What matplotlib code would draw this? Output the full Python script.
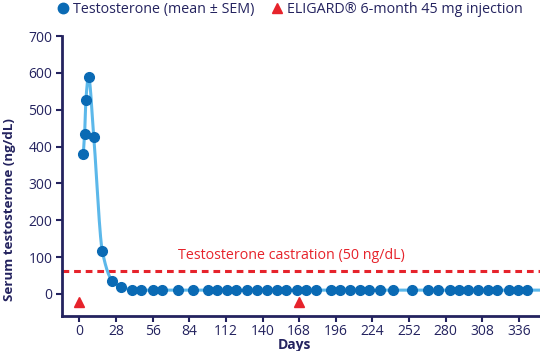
import numpy as np
import matplotlib.pyplot as plt
from matplotlib.lines import Line2D

# testosterone mean values
days = [3, 4, 5, 7, 11, 17.5, 25, 32, 40, 47, 56, 63, 75, 87, 98, 105, 113, 120,
        128, 136, 143, 151, 158, 166, 173, 180.5, 192, 199, 207, 214.5, 221, 230,
        240, 254, 266.5, 274, 283, 290, 297, 305, 312, 319, 328, 335.5, 342]
testo = [380, 433, 527, 589, 425, 117, 36, 19, 11, 10, 10, 10, 10, 10, 10, 10, 10, 10,
         10, 10, 10, 10, 10, 10, 10, 10, 10, 10, 10, 10, 10, 10,
         10, 10, 10, 10, 10, 10, 10, 10, 10, 10, 10, 10, 10]
inj_days = [0, 168]
inj_y = [-21, -21]
castration = 63
xticks = list(range(0, 337, 28))
yticks = list(range(0, 701, 100))

navy = '#24235f'
blue = '#0a6ab4'
light = '#5cb8ea'
red = '#e6232b'

plt.rcParams['font.family'] = ['Open Sans', 'DejaVu Sans']


def smooth(x, y, n=20):
    # monotone cubic (Fritsch-Carlson) just for the drawn curve
    x = np.asarray(x, float)
    y = np.asarray(y, float)
    h = np.diff(x)
    d = np.diff(y) / h
    m = np.zeros_like(y)
    m[0], m[-1] = d[0], d[-1]
    for i in range(1, len(x) - 1):
        if d[i - 1] * d[i] <= 0:
            m[i] = 0
        else:
            w1 = 2 * h[i] + h[i - 1]
            w2 = h[i] + 2 * h[i - 1]
            m[i] = (w1 + w2) / (w1 / d[i - 1] + w2 / d[i])
    xs, ys = [], []
    for i in range(len(x) - 1):
        t = np.linspace(0, 1, n, endpoint=False)
        h00 = 2 * t**3 - 3 * t**2 + 1
        h10 = t**3 - 2 * t**2 + t
        h01 = -2 * t**3 + 3 * t**2
        h11 = t**3 - t**2
        xs.append(x[i] + t * h[i])
        ys.append(h00 * y[i] + h10 * h[i] * m[i] + h01 * y[i + 1] + h11 * h[i] * m[i + 1])
    xs.append([x[-1]])
    ys.append([y[-1]])
    return np.concatenate(xs), np.concatenate(ys)


fig = plt.figure(figsize=(5.4, 3.51), dpi=100)
ax = fig.add_axes([0.115, 0.10, 0.885, 0.797])

xlim = (-13.2, 352)
sx, sy = smooth(days, testo)
ax.plot(np.append(sx, xlim[1]), np.append(sy, testo[-1]), color=light, lw=2.2, zorder=2)
ax.plot(days, testo, 'o', color=blue, ms=7, zorder=3)
ax.plot(inj_days, inj_y, '^', color=red, ms=7, zorder=3)
ax.axhline(castration, color=red, lw=2.2, ls=(0, (2.2, 1.6)), zorder=1)
ax.text(75, 104, 'Testosterone castration (50 ng/dL)', color=red, fontsize=10.3,
        ha='left', va='center')

ax.set_xlim(*xlim)
ax.set_ylim(-60, 700)
ax.set_xticks(xticks)
ax.set_yticks(yticks)
for s in ['top', 'right']:
    ax.spines[s].set_visible(False)
for s in ['left', 'bottom']:
    ax.spines[s].set_color(navy)
    ax.spines[s].set_linewidth(2)
ax.tick_params(colors=navy, labelsize=10, width=1.5, length=4)
ax.tick_params(axis='x', pad=1.5)
ax.tick_params(axis='y', pad=3)
ax.set_xlabel('Days', color=navy, fontsize=10, fontweight='bold')
ax.set_ylabel('Serum testosterone (ng/dL)', color=navy, fontsize=9.6, fontweight='bold')
ax.xaxis.set_label_coords(0.487, -0.078)
ax.yaxis.set_label_coords(-0.0965, 0.379)

handles = [Line2D([], [], marker='o', ls='none', color=blue, ms=7.5),
           Line2D([], [], marker='^', ls='none', color=red, ms=7.5)]
fig.legend(handles, ['Testosterone (mean \u00b1 SEM)', 'ELIGARD\u00ae 6-month 45 mg injection'],
           loc='upper center', bbox_to_anchor=(0.535, 1.03), ncol=2, frameon=False,
           fontsize=10.3, labelcolor=navy, handletextpad=0.1, columnspacing=1.0,
           handlelength=1.2)

fig.savefig('out.png', dpi=100)
